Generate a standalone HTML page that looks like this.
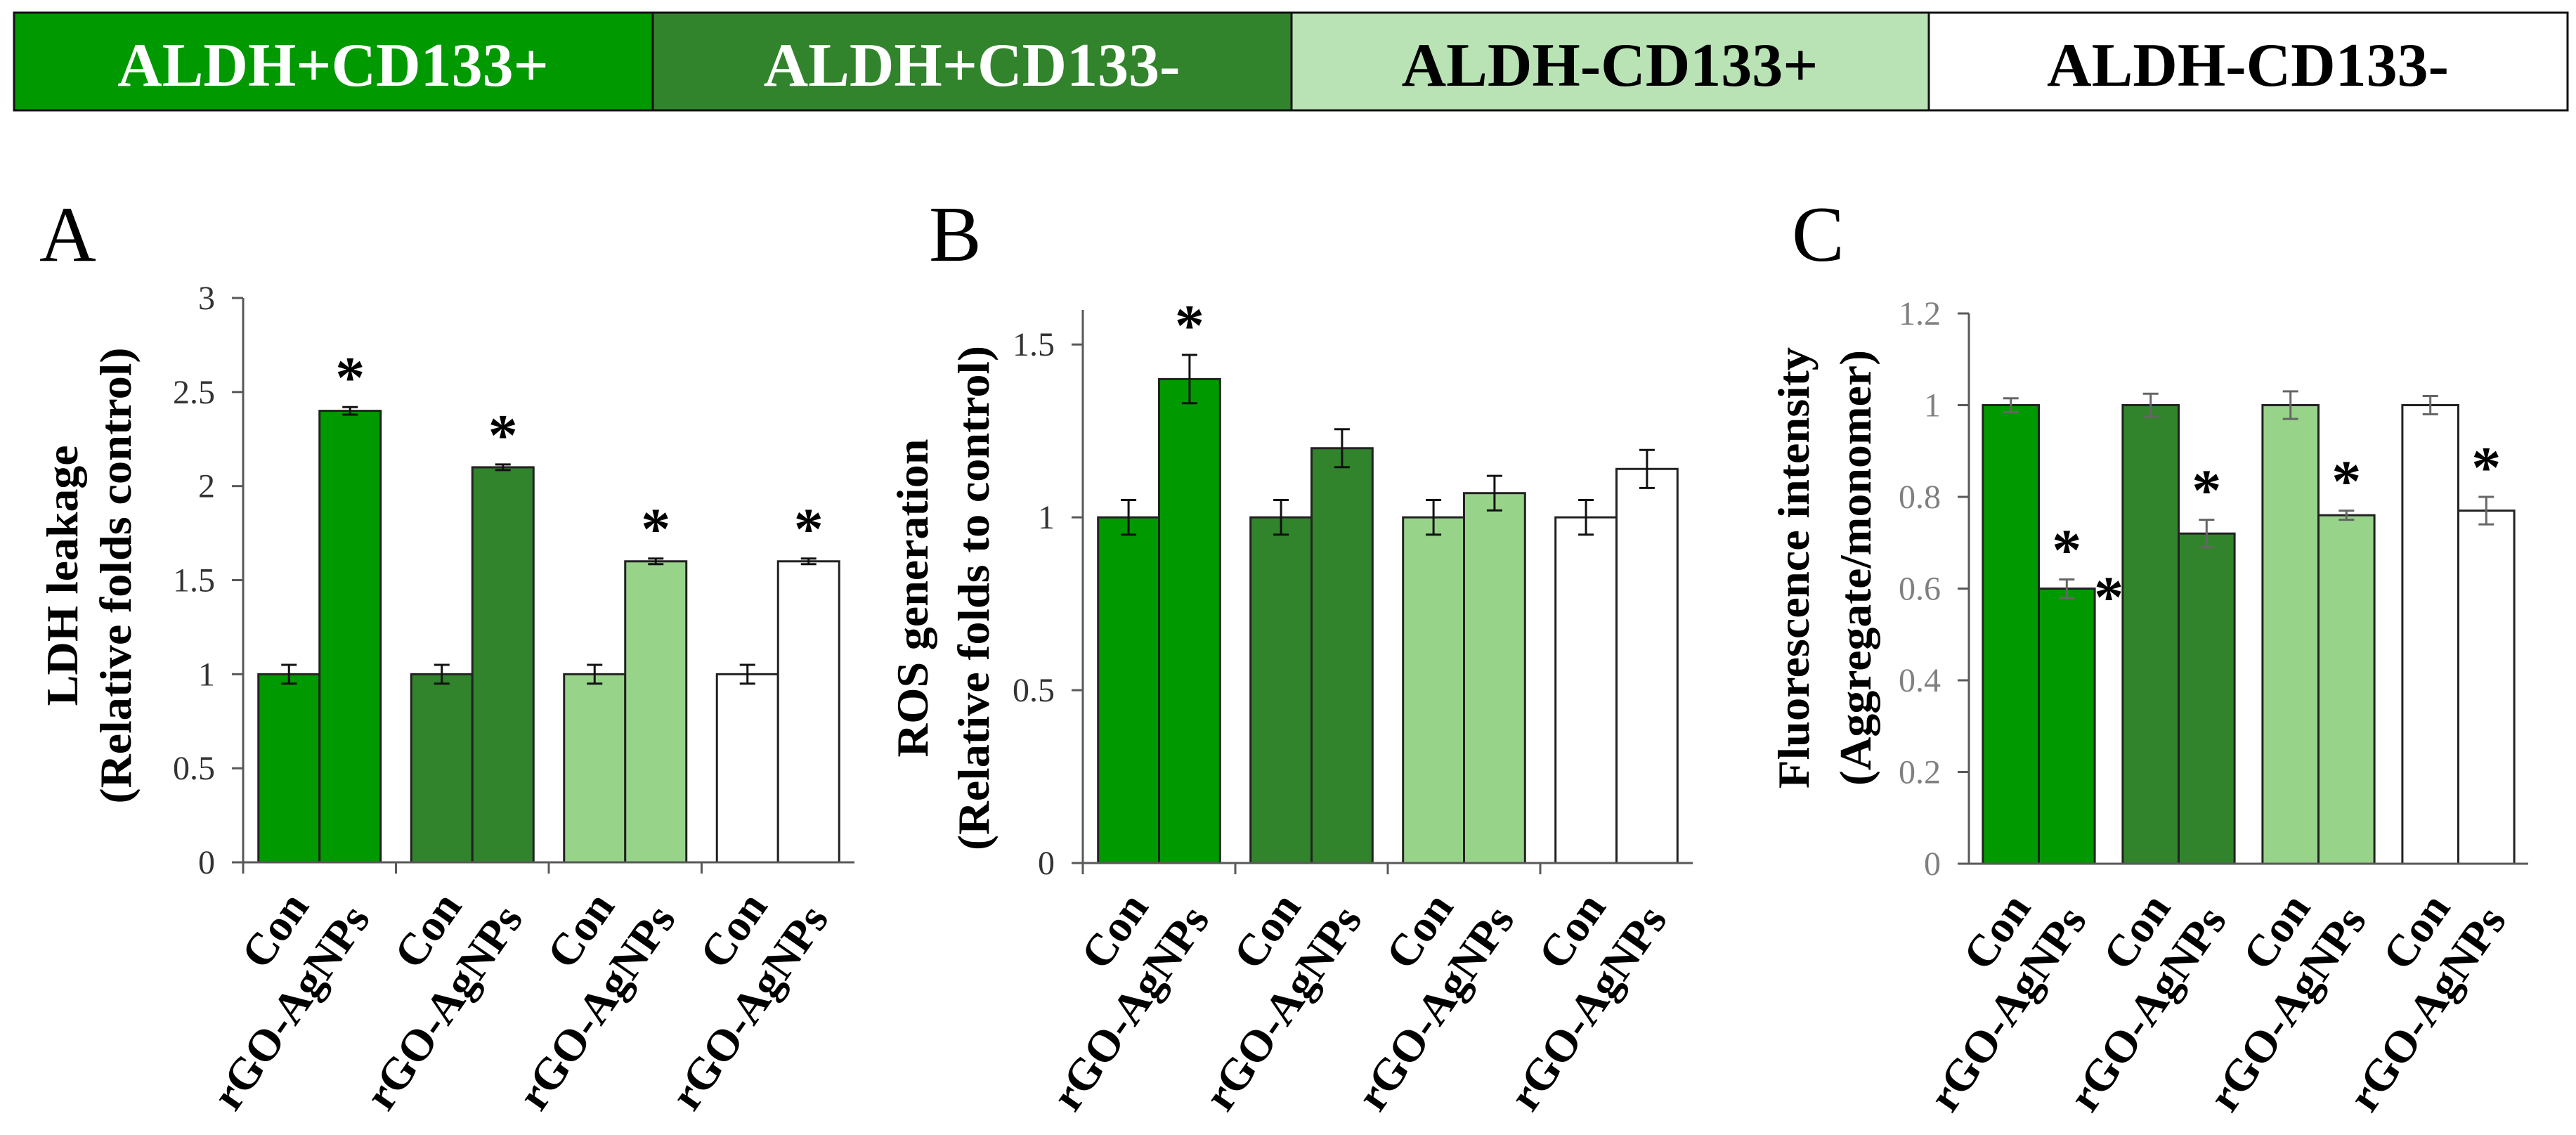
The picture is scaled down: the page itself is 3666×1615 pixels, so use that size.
<!DOCTYPE html>
<html><head><meta charset="utf-8"><style>
html,body{margin:0;padding:0;background:#fff}
svg{display:block}
text{font-family:"Liberation Serif",serif}
</style></head><body>
<svg id="fig" width="3666" height="1615" viewBox="0 0 3666 1615" xmlns="http://www.w3.org/2000/svg">
<g>
<rect x="20" y="18" width="909" height="139" fill="#009900" stroke="#111" stroke-width="3"/>
<rect x="929" y="18" width="909" height="139" fill="#31842c" stroke="#111" stroke-width="3"/>
<rect x="1838" y="18" width="907" height="139" fill="#b9e2b5" stroke="#111" stroke-width="3"/>
<rect x="2745" y="18" width="909" height="139" fill="#fff" stroke="#111" stroke-width="3"/>
<text x="474" y="122" font-size="88" font-weight="bold" fill="#fff" text-anchor="middle">ALDH+CD133+</text>
<text x="1383" y="122" font-size="88" font-weight="bold" fill="#fff" text-anchor="middle">ALDH+CD133-</text>
<text x="2291" y="122" font-size="88" font-weight="bold" fill="#000" text-anchor="middle">ALDH-CD133+</text>
<text x="3199" y="122" font-size="88" font-weight="bold" fill="#000" text-anchor="middle">ALDH-CD133-</text>
</g>
<text x="56" y="371" font-size="112">A</text>
<text x="1322" y="371" font-size="112">B</text>
<text x="2550" y="371" font-size="112">C</text>
</svg>
<script>
const categories = ["Con", "rGO-AgNPs", "Con", "rGO-AgNPs", "Con", "rGO-AgNPs", "Con", "rGO-AgNPs"];
const ldhValues = [1, 2.4, 1, 2.1, 1, 1.6, 1, 1.6];
const ldhErrors = [0.05, 0.02, 0.05, 0.015, 0.05, 0.015, 0.05, 0.015];
const ldhSig = [false, true, false, true, false, true, false, true];
const ldhTicks = ["0", "0.5", "1", "1.5", "2", "2.5", "3"];
const rosValues = [1, 1.4, 1, 1.2, 1, 1.07, 1, 1.14];
const rosErrors = [0.05, 0.07, 0.05, 0.055, 0.05, 0.05, 0.05, 0.055];
const rosSig = [false, true, false, false, false, false, false, false];
const rosTicks = ["0", "0.5", "1", "1.5"];
const fluValues = [1, 0.6, 1, 0.72, 1, 0.76, 1, 0.77];
const fluErrors = [0.015, 0.02, 0.025, 0.03, 0.03, 0.01, 0.02, 0.03];
const fluSig = [false, true, false, true, false, true, false, true];
const fluTicks = ["0", "0.2", "0.4", "0.6", "0.8", "1", "1.2"];
const fills = ["#009900", "#31842c", "#98d38a", "#ffffff"];

const NS = "http://www.w3.org/2000/svg";
const svg = document.getElementById("fig");
function mk(tag, attrs, parent) {
  const e = document.createElementNS(NS, tag);
  for (const k in attrs) e.setAttribute(k, attrs[k]);
  (parent || svg).appendChild(e);
  return e;
}
function panel(o) {
  const g = mk("g", {});
  
  
  const y = v => o.y0 - (v / o.max) * (o.y0 - o.yTop);
  const gw = (o.x1 - o.x0) / 4;
  const bw = gw * 0.4;
  const bx = i => o.x0 + Math.floor(i / 2) * gw + gw * 0.1 + (i % 2) * bw;
  const axCol = "#595959";
  o.values.forEach((v, i) => {
    const r = mk("rect", {x: bx(i), y: y(v), width: bw, height: o.y0 - y(v), fill: fills[Math.floor(i / 2)], stroke: "#222", "stroke-width": 3}, g);
    
    
    const cx = bx(i) + bw / 2, t = y(v + o.errors[i]), b = y(v - o.errors[i]);
    const eb = mk("path", {d: `M${cx} ${t}V${b}M${cx - 11} ${t}H${cx + 11}M${cx - 11} ${b}H${cx + 11}`, stroke: o.errCol, "stroke-width": 3, fill: "none"}, g);
    
    
    if (o.sig[i]) {
      const s = mk("text", {x: cx, y: t - 14, "font-size": 84, "font-weight": "bold", "text-anchor": "middle"}, g);
      s.textContent = "*";
      
      
    }
    const lab = mk("text", {transform: `translate(${cx + 30},${o.y0 + (i % 2 ? 80 : 62)}) rotate(-55)`, "font-size": 64, "font-weight": "bold", "text-anchor": "end"}, g);
    lab.textContent = categories[i];
    
    
  });
  const ax = mk("path", {d: `M${o.x0} ${o.yTop}V${o.y0}M${o.x0 - 16} ${o.y0}H${o.x1}`, stroke: axCol, "stroke-width": 3, fill: "none"}, g);
  
  
  if (o.catTicks) {
    for (let k = 0; k < 4; k++) {
      const tx = o.x0 + k * gw;
      mk("path", {d: `M${tx} ${o.y0}V${o.y0 + 16}`, stroke: axCol, "stroke-width": 3}, g);
    }
  }
  o.ticks.forEach(t => {
    const ty = y(parseFloat(t));
    mk("path", {d: `M${o.x0 - 16} ${ty}H${o.x0}`, stroke: axCol, "stroke-width": 3}, g);
    const tl = mk("text", {x: o.x0 - 40, y: ty + 16, "font-size": 48, "text-anchor": "end", fill: o.tickCol}, g);
    tl.textContent = t;
    
    
  });
  o.titles.forEach((tt, j) => {
    const e = mk("text", {transform: `translate(${tt.x},${o.titleCy}) rotate(-90)`, "font-size": 64, "font-weight": "bold", "text-anchor": "middle", textLength: tt.len, lengthAdjust: "spacingAndGlyphs"}, g);
    e.textContent = tt.t;
    
    
  });
  return {y, bx, bw};
}
panel({name: "chart-a-ldh", key: "a", x0: 346, x1: 1216, y0: 1227, yTop: 424, max: 3, values: ldhValues, errors: ldhErrors, sig: ldhSig, ticks: ldhTicks, errCol: "#111", tickCol: "#333", catTicks: true, titleCy: 819,
  titles: [{t: "LDH leakage", x: 110, len: 371}, {t: "(Relative folds control)", x: 186, len: 649}]});
panel({name: "chart-b-ros", key: "b", x0: 1541, x1: 2409, y0: 1228, yTop: 441, max: 1.6, values: rosValues, errors: rosErrors, sig: rosSig, ticks: rosTicks, errCol: "#111", tickCol: "#333", catTicks: true, titleCy: 851,
  titles: [{t: "ROS generation", x: 1320, len: 453}, {t: "(Relative folds to control)", x: 1407, len: 718}]});
const pc = panel({name: "chart-c-fluorescence", key: "c", x0: 2802, x1: 3598, y0: 1229, yTop: 446, max: 1.2, values: fluValues, errors: fluErrors, sig: fluSig, ticks: fluTicks, errCol: "#666", tickCol: "#808080", catTicks: false, titleCy: 808,
  titles: [{t: "Fluorescence intensity", x: 2574, len: 628}, {t: "(Aggregate/monomer)", x: 2662, len: 620}]});
const extra = mk("text", {x: pc.bx(1) + pc.bw + 20, y: pc.y(fluValues[1]) + 40, "font-size": 84, "font-weight": "bold", "text-anchor": "middle"});
extra.textContent = "*";


</script>
</body></html>
